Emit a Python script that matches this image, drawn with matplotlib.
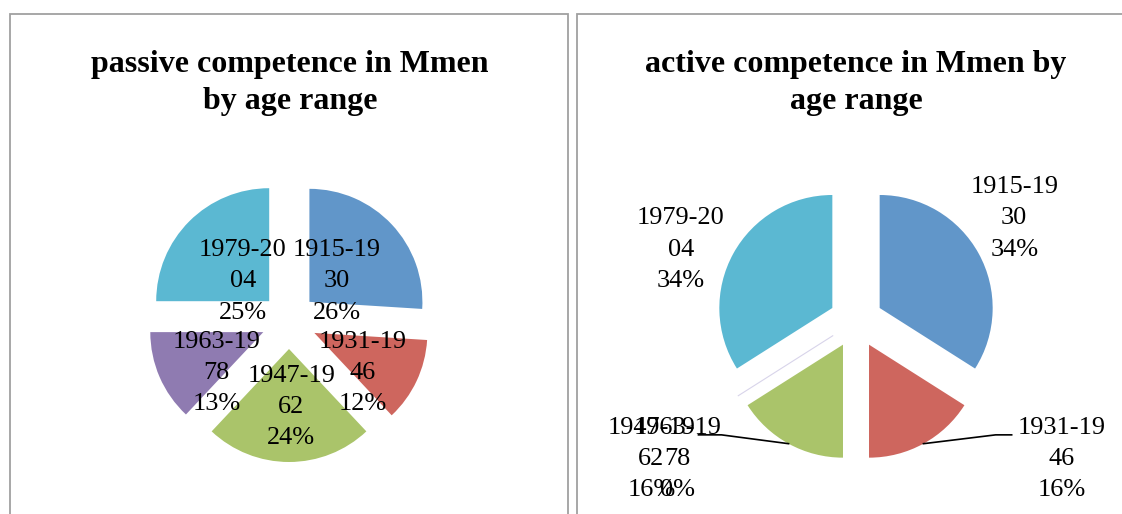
import numpy as np
import matplotlib.pyplot as plt
from matplotlib.patches import Rectangle

W, H = 1122, 514  # figure size in pixels

# data
age_ranges = ["1915-1930", "1931-1946", "1947-1962", "1963-1978", "1979-2004"]
passive_pct = [26, 12, 24, 13, 25]
active_pct = [34, 16, 16, 0, 34]
colors = ["#6196C9", "#CE665E", "#AAC46A", "#8F7BB1", "#5BB8D2"]
titles = ["passive competence in Mmen\nby age range",
          "active competence in Mmen by\nage range"]

plt.rcParams['font.family'] = ['Liberation Serif', 'DejaVu Serif']

fig = plt.figure(figsize=(W / 100, H / 100), dpi=100)
ax = fig.add_axes([0, 0, 1, 1])


def wrap(s):
    # excel broke the category names after 7 characters
    return s[:7] + "\n" + s[7:]


def draw_pie(vals, cx, cy, r, expl, offsets, leaders):
    wedges, _ = ax.pie(vals, colors=colors, startangle=90, counterclock=False,
                       radius=r, center=(cx, H - cy), explode=[expl] * len(vals))
    total = float(sum(vals))
    for i, w in enumerate(wedges):
        if vals[i] == 0:
            w.set_edgecolor("#D8D4EA")
            w.set_linewidth(0.8)
        txt = wrap(age_ranges[i]) + "\n%d%%" % round(vals[i] / total * 100)
        lx = cx + offsets[i][0] * r
        ly = H - cy + offsets[i][1] * r
        ax.text(lx, ly, txt, ha='center', va='center', fontsize=18.9,
                linespacing=1.55, multialignment='center')
        if i in leaders:
            # leader line: arc midpoint -> elbow -> short horizontal end
            a = np.deg2rad((w.theta1 + w.theta2) / 2)
            x0 = w.center[0] + w.r * np.cos(a)
            y0 = w.center[1] + w.r * np.sin(a)
            ex, ey, hook = leaders[i]
            x2, y2 = lx + ex, ly + ey
            ax.plot([x0, x2 + hook, x2], [y0, y2, y2], color="black", lw=1.2)


# panel frames
ax.add_patch(Rectangle((10, -20), 558, H - 14 + 20, fill=False,
                       edgecolor="#A0A0A0", lw=1.3))
ax.add_patch(Rectangle((577, -20), 600, H - 14 + 20, fill=False,
                       edgecolor="#A0A0A0", lw=1.3))

draw_pie(passive_pct, 289, 321, 113, 28,
         [(0.42, 0.35), (0.65, -0.46), (0.02, -0.76), (-0.64, -0.46), (-0.41, 0.35)],
         {})
draw_pie(active_pct, 856, 321, 113, 27,
         [(1.40, 0.91), (1.82, -1.22), (-1.81, -1.22), (-1.58, -1.22), (-1.55, 0.63)],
         {1: (-50, 24, -16), 2: (47, 24, 23)})

ax.text(290, H - 83, titles[0], ha='center', va='center', fontsize=23,
        fontweight='bold', linespacing=1.38)
ax.text(856, H - 83, titles[1], ha='center', va='center', fontsize=23,
        fontweight='bold', linespacing=1.38)

ax.set_xlim(0, W)
ax.set_ylim(0, H)
ax.set_aspect('auto')
ax.axis('off')

plt.savefig("out.png", dpi=100)
